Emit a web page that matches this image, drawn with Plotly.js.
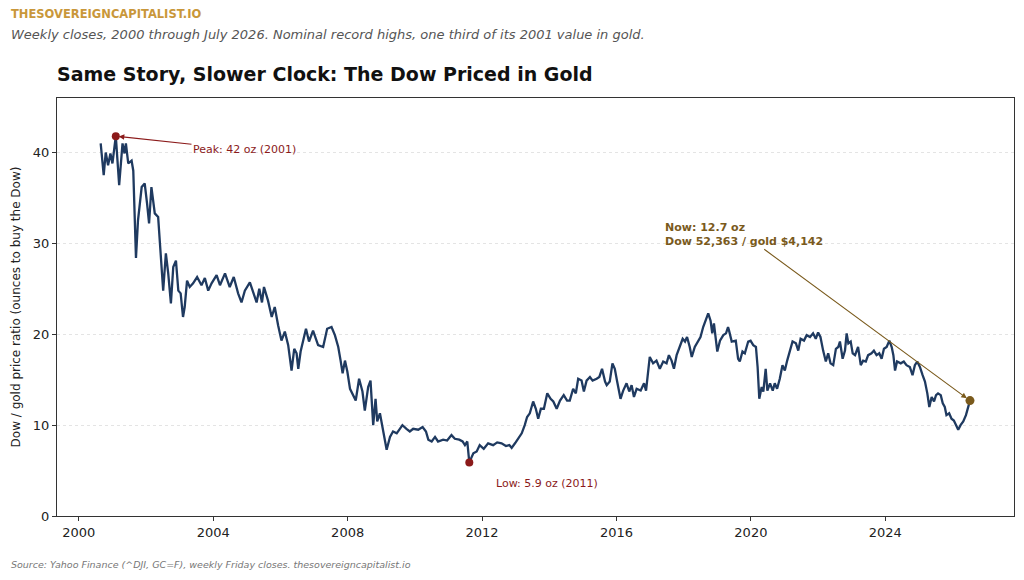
<!DOCTYPE html>
<html>
<head>
<meta charset="utf-8">
<script src="https://cdn.plot.ly/plotly-3.0.1.min.js"></script>
<style>
  html, body { margin: 0; padding: 0; background: #fff; }
  #chart { width: 1024px; height: 580px; }
</style>
</head>
<body>
<div id="chart"></div>
<script>
// weekly Dow / gold ratio (decimal years)
const dates = [
  2000.65, 2000.74, 2000.80, 2000.87, 2000.94, 2001.00, 2001.10, 2001.20, 2001.30, 2001.36,
  2001.40, 2001.47, 2001.57, 2001.62, 2001.70, 2001.76, 2001.87, 2001.96, 2002.03, 2002.09,
  2002.16, 2002.26, 2002.36, 2002.43, 2002.51, 2002.59, 2002.66, 2002.74, 2002.81, 2002.89,
  2002.96, 2003.03, 2003.10, 2003.15, 2003.22, 2003.30, 2003.40, 2003.52, 2003.65, 2003.75,
  2003.85, 2003.95, 2004.10, 2004.20, 2004.35, 2004.49, 2004.61, 2004.74, 2004.84, 2004.94,
  2005.09, 2005.19, 2005.29, 2005.37, 2005.45, 2005.51, 2005.63, 2005.74, 2005.83, 2005.93,
  2006.03, 2006.13, 2006.23, 2006.33, 2006.41, 2006.48, 2006.53, 2006.60, 2006.68, 2006.76,
  2006.85, 2006.97, 2007.12, 2007.27, 2007.39, 2007.52, 2007.62, 2007.72, 2007.79, 2007.85,
  2007.92, 2007.99, 2008.07, 2008.16, 2008.24, 2008.34, 2008.44, 2008.51, 2008.61, 2008.68,
  2008.76, 2008.83, 2008.88, 2008.96, 2009.06, 2009.16, 2009.26, 2009.35, 2009.46, 2009.63,
  2009.75, 2009.85, 2009.95, 2010.10, 2010.23, 2010.33, 2010.40, 2010.50, 2010.60, 2010.69,
  2010.84, 2010.96, 2011.09, 2011.19, 2011.32, 2011.42, 2011.49, 2011.56, 2011.62, 2011.74,
  2011.84, 2011.93, 2012.05, 2012.18, 2012.33, 2012.45, 2012.58, 2012.71, 2012.81, 2012.88,
  2012.98, 2013.07, 2013.18, 2013.27, 2013.34, 2013.42, 2013.52, 2013.60, 2013.67, 2013.75,
  2013.84, 2013.94, 2014.04, 2014.12, 2014.22, 2014.32, 2014.43, 2014.53, 2014.61, 2014.71,
  2014.79, 2014.86, 2014.96, 2015.03, 2015.11, 2015.21, 2015.29, 2015.41, 2015.49, 2015.57,
  2015.66, 2015.71, 2015.80, 2015.88, 2015.95, 2016.02, 2016.12, 2016.20, 2016.30, 2016.38,
  2016.45, 2016.52, 2016.60, 2016.72, 2016.82, 2016.88, 2016.94, 2016.99, 2017.09, 2017.19,
  2017.29, 2017.39, 2017.49, 2017.56, 2017.64, 2017.71, 2017.79, 2017.89, 2017.97, 2018.04,
  2018.10, 2018.18, 2018.24, 2018.33, 2018.43, 2018.50, 2018.58, 2018.66, 2018.73, 2018.80,
  2018.85, 2018.90, 2018.95, 2019.00, 2019.08, 2019.18, 2019.26, 2019.32, 2019.35, 2019.43,
  2019.55, 2019.62, 2019.67, 2019.75, 2019.82, 2019.92, 2019.99, 2020.07, 2020.15, 2020.20,
  2020.25, 2020.32, 2020.37, 2020.44, 2020.49, 2020.57, 2020.65, 2020.71, 2020.78, 2020.86,
  2020.94, 2021.01, 2021.08, 2021.16, 2021.24, 2021.34, 2021.41, 2021.48, 2021.58, 2021.66,
  2021.76, 2021.85, 2021.93, 2022.00, 2022.07, 2022.15, 2022.23, 2022.30, 2022.37, 2022.45,
  2022.53, 2022.60, 2022.65, 2022.73, 2022.80, 2022.85, 2022.90, 2022.97, 2023.03, 2023.10,
  2023.19, 2023.27, 2023.34, 2023.42, 2023.49, 2023.59, 2023.66, 2023.74, 2023.82, 2023.89,
  2023.96, 2024.04, 2024.12, 2024.19, 2024.24, 2024.29, 2024.35, 2024.46, 2024.55, 2024.63,
  2024.73, 2024.81, 2024.88, 2024.95, 2025.03, 2025.11, 2025.18, 2025.25, 2025.31, 2025.38,
  2025.45, 2025.51, 2025.57, 2025.65, 2025.71, 2025.77, 2025.82, 2025.90, 2025.97, 2026.04,
  2026.10, 2026.17, 2026.24, 2026.32, 2026.40, 2026.47, 2026.52
]
const ratio = [
  41.0, 37.5, 40.0, 38.6, 39.9, 38.8, 41.8, 36.4, 41.0, 39.9,
  41.0, 38.8, 39.1, 38.0, 28.4, 32.5, 36.2, 36.6, 34.4, 32.2,
  36.2, 33.3, 32.9, 29.6, 24.8, 28.9, 26.7, 23.4, 27.4, 28.1,
  24.8, 24.5, 21.9, 23.0, 25.9, 25.2, 25.6, 26.3, 25.4, 26.2,
  24.8, 25.6, 26.5, 25.4, 26.7, 25.2, 26.3, 24.5, 23.5, 24.8,
  25.7, 24.6, 23.5, 25.0, 23.5, 25.2, 23.7, 21.9, 23.0, 21.0,
  19.3, 20.3, 18.8, 16.0, 18.4, 17.9, 16.2, 18.1, 19.5, 20.6,
  19.2, 20.4, 18.8, 18.6, 20.6, 20.8, 19.9, 18.6, 17.1, 15.7,
  17.1, 15.9, 14.0, 13.3, 12.7, 15.1, 13.7, 11.6, 14.2, 14.9,
  10.0, 12.9, 10.4, 11.3, 9.1, 7.3, 8.7, 9.3, 9.1, 10.0,
  9.6, 9.3, 9.6, 9.5, 9.8, 9.3, 8.4, 8.2, 8.7, 8.2,
  8.4, 8.3, 8.9, 8.5, 8.4, 8.2, 7.8, 8.2, 5.9, 6.9,
  7.1, 7.8, 7.4, 8.0, 7.8, 8.1, 8.0, 7.7, 7.8, 7.5,
  8.0, 8.5, 9.1, 10.0, 10.9, 11.3, 12.6, 11.8, 10.7, 11.8,
  11.8, 13.5, 12.9, 12.6, 11.8, 12.7, 13.3, 12.7, 12.7, 14.0,
  13.5, 15.1, 14.9, 13.7, 14.9, 15.3, 14.9, 15.1, 15.3, 16.2,
  14.8, 14.4, 14.8, 16.8, 16.2, 14.8, 12.9, 13.8, 14.6, 13.7,
  14.4, 13.1, 14.0, 13.8, 14.6, 13.8, 16.2, 17.5, 16.8, 17.1,
  16.2, 17.0, 16.8, 17.7, 17.1, 16.2, 17.7, 18.6, 19.5, 19.2,
  19.7, 18.6, 17.5, 18.6, 19.3, 19.7, 20.8, 21.5, 22.3, 21.5,
  20.1, 21.2, 19.9, 18.1, 19.3, 19.9, 20.1, 20.8, 20.4, 19.2,
  19.3, 17.3, 17.0, 18.1, 17.9, 19.2, 19.3, 18.8, 18.6, 16.4,
  12.9, 14.2, 13.7, 16.2, 13.8, 14.6, 13.8, 14.6, 14.0, 15.1,
  16.6, 16.0, 17.1, 18.2, 19.2, 19.0, 18.2, 19.5, 19.3, 19.9,
  19.7, 20.1, 19.5, 20.2, 19.7, 18.2, 17.0, 17.9, 16.8, 16.6,
  18.4, 18.6, 19.2, 17.3, 18.2, 20.1, 19.0, 19.2, 17.9, 17.7,
  18.6, 16.6, 17.1, 17.0, 17.7, 17.9, 18.2, 17.7, 17.9, 17.3,
  18.4, 18.6, 19.3, 18.6, 17.7, 16.0, 17.0, 16.8, 17.0, 16.6,
  16.4, 15.5, 16.6, 17.0, 16.4, 15.5, 14.8, 13.5, 12.0, 13.1,
  12.6, 13.3, 13.5, 13.3, 12.4, 12.0, 11.1, 11.3, 10.7, 10.5,
  10.0, 9.5, 10.0, 10.4, 11.1, 12.0, 12.7
]

// highlighted points
const peakPoint = [2001.10, 41.8]
const lowPoint = [2011.62, 5.9]
const nowPoint = [2026.52, 12.7]

const xTicks = [2000, 2004, 2008, 2012, 2016, 2020, 2024]
const yTicks = [0, 10, 20, 30, 40]

const navy = '#1f3a60'
const red = '#8b1a1a'
const brown = '#7a5a1c'
const font = 'DejaVu Sans, Verdana, sans-serif'

const traces = [
  {
    type: 'scatter',
    mode: 'lines',
    x: dates,
    y: ratio,
    line: { color: navy, width: 2.3 },
    hoverinfo: 'skip'
  },
  {
    type: 'scatter',
    mode: 'markers',
    x: [peakPoint[0], lowPoint[0]],
    y: [peakPoint[1], lowPoint[1]],
    marker: { color: red, size: 8 }
  },
  {
    type: 'scatter',
    mode: 'markers',
    x: [nowPoint[0]],
    y: [nowPoint[1]],
    marker: { color: brown, size: 9 }
  }
]

const layout = {
  width: 1024,
  height: 580,
  showlegend: false,
  paper_bgcolor: '#fff',
  plot_bgcolor: '#fff',
  font: { family: font, color: '#222', size: 13 },
  margin: { l: 57, r: 10, t: 98, b: 64 },
  title: {
    text: '<b>Same Story, Slower Clock: The Dow Priced in Gold</b>',
    font: { size: 19, color: '#111', family: font },
    x: 0.0557, xanchor: 'left',
    y: 0.872, yanchor: 'middle'
  },
  xaxis: {
    range: [1999.35, 2027.83],
    tickvals: xTicks,
    tickformat: 'd',
    ticks: 'outside',
    ticklen: 4,
    tickcolor: '#333',
    showgrid: false,
    zeroline: false,
    showline: true,
    linecolor: '#333',
    linewidth: 1,
    mirror: true,
    tickfont: { size: 13, color: '#222' }
  },
  yaxis: {
    range: [0, 46],
    tickvals: yTicks,
    ticks: 'outside',
    ticklen: 4,
    tickcolor: '#333',
    showgrid: true,
    gridcolor: '#dddddd',
    griddash: 'dot',
    gridwidth: 0.8,
    zeroline: false,
    showline: true,
    linecolor: '#333',
    linewidth: 1,
    mirror: true,
    tickfont: { size: 13, color: '#222' },
    title: {
      text: 'Dow / gold price ratio (ounces to buy the Dow)',
      font: { size: 12, color: '#222' },
      standoff: 9
    }
  },
  annotations: [
    {
      xref: 'paper', yref: 'paper', x: -0.0502, y: 1.201,
      xanchor: 'left', yanchor: 'middle', showarrow: false,
      text: '<b>THESOVEREIGNCAPITALIST.IO</b>',
      font: { size: 11.5, color: '#c9973a' }
    },
    {
      xref: 'paper', yref: 'paper', x: -0.0502, y: 1.153,
      xanchor: 'left', yanchor: 'middle', showarrow: false,
      text: '<i>Weekly closes, 2000 through July 2026. Nominal record highs, one third of its 2001 value in gold.</i>',
      font: { size: 13, color: '#555' }
    },
    {
      xref: 'paper', yref: 'paper', x: -0.0502, y: -0.117,
      xanchor: 'left', yanchor: 'middle', showarrow: false,
      text: '<i>Source: Yahoo Finance (^DJI, GC=F), weekly Friday closes. thesovereigncapitalist.io</i>',
      font: { size: 9.5, color: '#777' }
    },
    {
      x: peakPoint[0], y: peakPoint[1],
      xref: 'x', yref: 'y', axref: 'x', ayref: 'y',
      ax: 2004.93, ay: 40.3,
      text: 'Peak: 42 oz (2001)',
      font: { size: 11, color: red },
      showarrow: true, arrowhead: 2, arrowsize: 1, arrowwidth: 1.1,
      arrowcolor: red, standoff: 3
    },
    {
      x: 2013.93, y: 3.6, xref: 'x', yref: 'y',
      text: 'Low: 5.9 oz (2011)',
      font: { size: 11, color: red },
      showarrow: false
    },
    {
      x: nowPoint[0], y: nowPoint[1],
      xref: 'x', yref: 'y', axref: 'x', ayref: 'y',
      ax: 2019.79, ay: 31.0,
      text: '<b>Now: 12.7 oz<br>Dow 52,363 / gold $4,142</b>',
      align: 'left',
      font: { size: 11, color: brown },
      showarrow: true, arrowhead: 2, arrowsize: 1, arrowwidth: 1.1,
      arrowcolor: brown, standoff: 4
    }
  ]
}

Plotly.newPlot('chart', traces, layout, { displayModeBar: false, staticPlot: true })
</script>
</body>
</html>
